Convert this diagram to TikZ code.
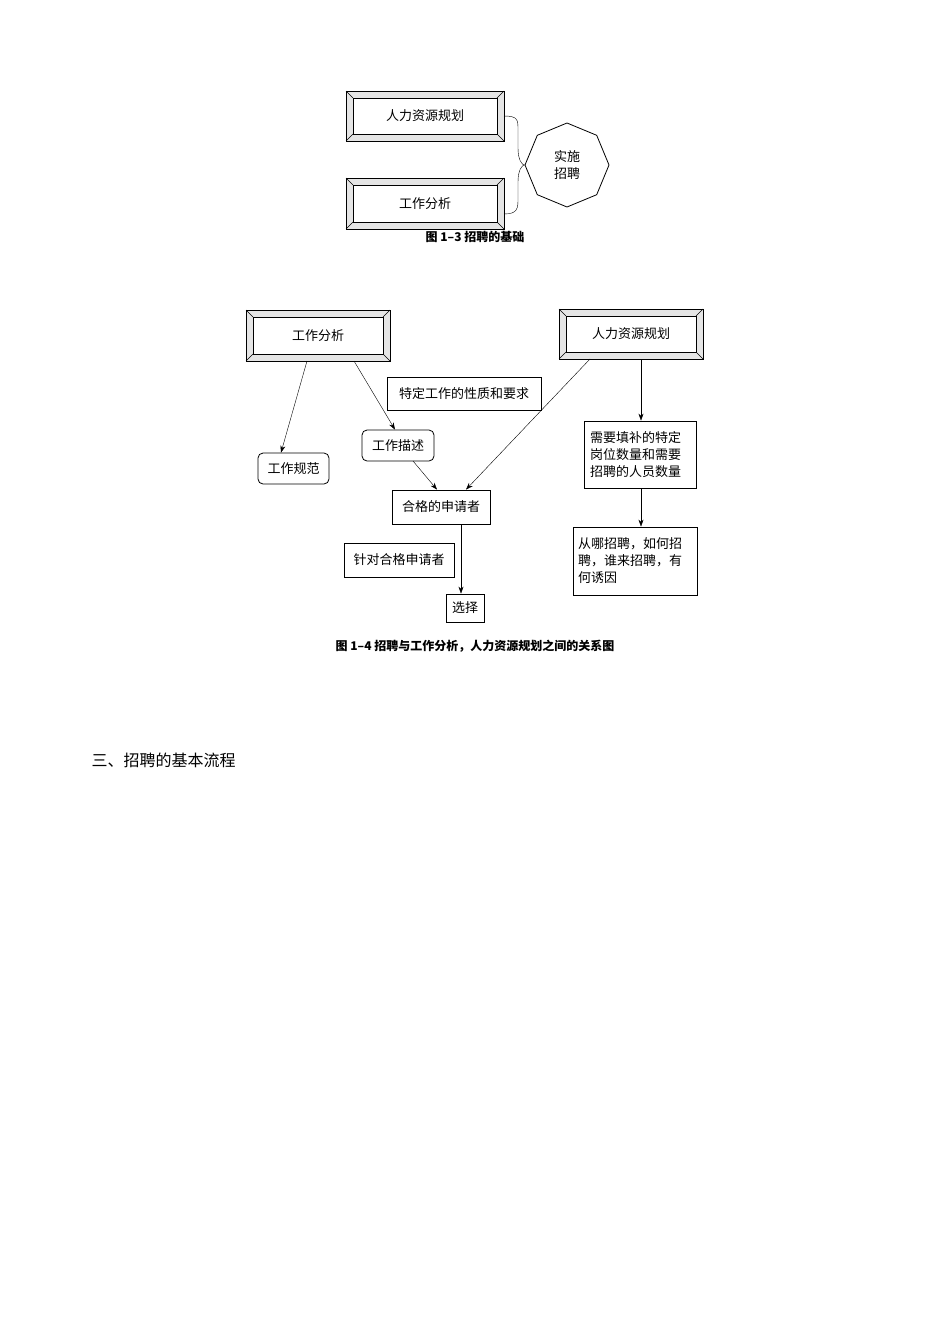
\documentclass[tikz,border=0pt]{standalone}
\usepackage{fontspec}
\setmainfont{Noto Sans CJK SC}
\usetikzlibrary{shapes.geometric,arrows.meta}
\newcommand{\bevelbox}[6]{% name x1 y1 x2 y2 text
  \fill[gray!20] (#2,#3) rectangle (#4,#5);
  \draw[thick] (#2,#3) rectangle (#4,#5);
  \fill[white] (#2+7,#3+7) rectangle (#4-7,#5-7);
  \draw[thick] (#2+7,#3+7) rectangle (#4-7,#5-7);
  \draw (#2,#3)--(#2+7,#3+7) (#4,#3)--(#4-7,#3+7) (#2,#5)--(#2+7,#5-7) (#4,#5)--(#4-7,#5-7);
  \node[font=\bxfont] (#1) at ({(#2+#4)/2},{(#3+#5)/2}) {#6};
}
\newcommand{\bxfont}{\fontsize{13}{17}\selectfont}
\begin{document}
\begin{tikzpicture}[x=1pt,y=-1pt,
  bx/.style={draw,thick,font=\bxfont,inner sep=0pt,align=left},
  rbx/.style={bx,rounded corners=5pt},
  arr/.style={-{Stealth[length=7pt,width=5pt]}},
  captxt/.style={font=\fontsize{12}{14}\selectfont\bfseries}]
\useasboundingbox (0,0) rectangle (950,1344);
\bevelbox{a}{346}{91}{504}{141}{人力资源规划}
\bevelbox{b}{346}{178}{504}{229}{工作分析}
\node[draw,thick,regular polygon,regular polygon sides=8,minimum size=84pt,shape border rotate=22.5,font=\bxfont,align=center] (oct) at (567,165) {实施\\招聘};
\draw (504,116) .. controls (518,116) and (518,120) .. (518,130) -- (518,148) .. controls (518,160) and (522,165) .. (oct.west);
\draw (504,214) .. controls (518,214) and (518,208) .. (518,198) -- (518,182) .. controls (518,170) and (522,165) .. (oct.west);
\node[captxt] (c1) at (475,237) {图 1–3 招聘的基础};

\bevelbox{ja}{246}{310}{390}{361}{工作分析}
\bevelbox{hr}{559}{309}{703}{359}{人力资源规划}
\node[bx,minimum width=154pt,minimum height=33pt,align=center] (tz) at (464,393.5) {特定工作的性质和要求};
\node[rbx,minimum width=72pt,minimum height=31pt,align=center] (ms) at (398,445.5) {工作描述};
\node[rbx,minimum width=71pt,minimum height=31pt,align=center] (gf) at (293.5,468.5) {工作规范};
\node[bx,minimum width=98pt,minimum height=34pt,align=center] (hg) at (441,507) {合格的申请者};
\node[bx,minimum width=110pt,minimum height=34pt,align=center] (zd) at (399,560) {针对合格申请者};
\node[bx,minimum width=38pt,minimum height=28pt,align=center] (xz) at (465,608) {选择};
\node[bx,minimum width=112pt,minimum height=67pt,align=left,text width=100pt] (xy) at (640,454.5) {需要填补的特定\\岗位数量和需要\\招聘的人员数量};
\node[bx,minimum width=124pt,minimum height=68pt,text width=114pt,align=left] (cn) at (635,561) {从哪招聘，如何招\\聘，谁来招聘，有\\何诱因};
\draw[arr] (307,361) -- (281,0 |- gf.north);
\draw[arr] (354,361) -- (395,0 |- ms.north);
\draw[arr] (413,461) -- (437,0 |- hg.north);
\draw[arr] (590,359) -- (466,0 |- hg.north);
\draw[arr] (641,359) -- (641,0 |- xy.north);
\draw[arr] (461,0 |- hg.south) -- (461,0 |- xz.north);
\draw[arr] (641,0 |- xy.south) -- (641,0 |- cn.north);
\node[captxt] (c2) at (475,646) {图 1–4 招聘与工作分析，人力资源规划之间的关系图};
\node[anchor=west,font=\fontsize{16}{19}\selectfont] (h3) at (88,760) {三、招聘的基本流程};
\end{tikzpicture}
\end{document}
